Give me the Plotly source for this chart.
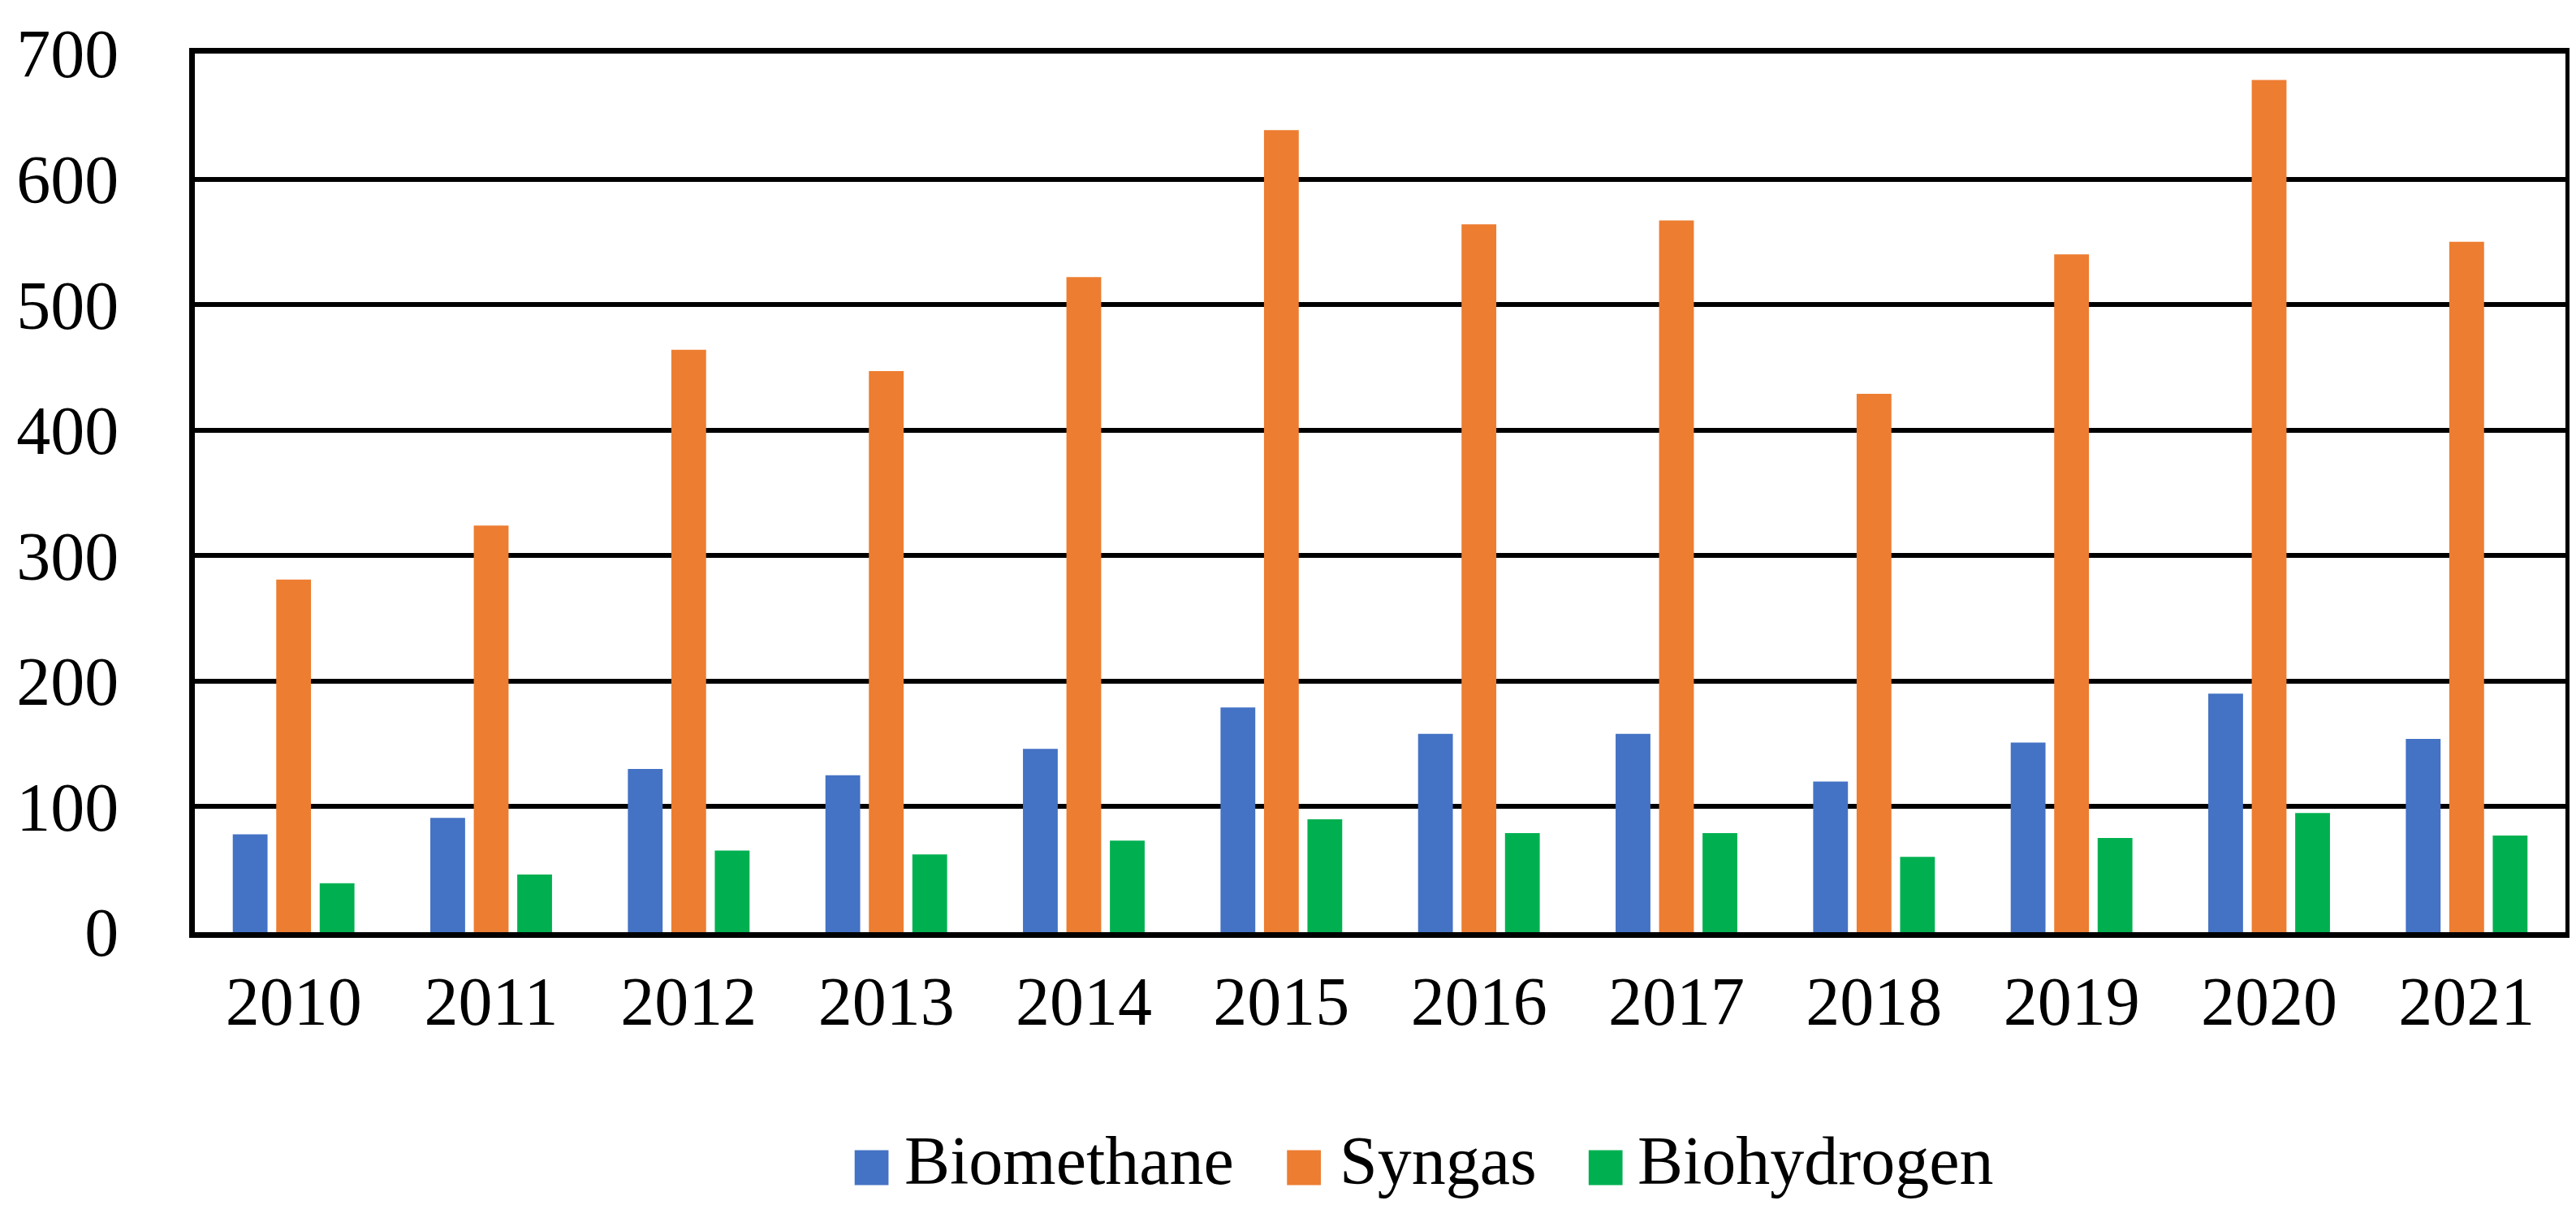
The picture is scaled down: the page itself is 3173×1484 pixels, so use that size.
import plotly.graph_objects as go

years = ["2010", "2011", "2012", "2013", "2014", "2015", "2016", "2017", "2018", "2019", "2020", "2021"]
biomethane = [78, 91, 130, 125, 146, 179, 158, 158, 120, 151, 190, 154]
syngas = [281, 324, 464, 447, 522, 639, 564, 567, 429, 540, 679, 550]
biohydrogen = [39, 46, 65, 62, 73, 90, 79, 79, 60, 75, 95, 77]

series_names = ["Biomethane", "Syngas", "Biohydrogen"]
series_values = [biomethane, syngas, biohydrogen]
series_colors = ["#4472C4", "#ED7D31", "#00B050"]
y_ticks = [0, 100, 200, 300, 400, 500, 600, 700]

W, H = 3173, 1484
L, R, T, B = 213, 21, 56, 344
PW, PH = W - L - R, H - T - B
FONT = "Liberation Serif, Times New Roman, serif"
FS = 84

fig = go.Figure()
for name, vals, col in zip(series_names, series_values, series_colors):
    fig.add_trace(go.Bar(x=years, y=vals, name=name, marker=dict(color=col, line=dict(width=0)),
                         showlegend=False))

def px_x(p):
    return (p - L) / PW

def px_y(p):
    return (H - B - p) / PH

# custom legend (large swatches like the original)
swatch_left = [1031, 1567, 1941]
text_left = [1091, 1630, 2000]
shapes = []
annotations = []
for name, col, sx, tx in zip(series_names, series_colors, swatch_left, text_left):
    shapes.append(dict(type="rect", xref="paper", yref="paper",
                       x0=px_x(sx), x1=px_x(sx + 42), y0=px_y(1452), y1=px_y(1409),
                       fillcolor=col, line=dict(width=0)))
    annotations.append(dict(text=name, xref="paper", yref="paper", x=px_x(tx), y=px_y(1422),
                            xanchor="left", yanchor="middle", showarrow=False,
                            font=dict(family=FONT, size=FS, color="black")))

fig.update_layout(
    width=W, height=H,
    margin=dict(l=L, r=R, t=T, b=B),
    paper_bgcolor="white", plot_bgcolor="white",
    barmode="group", bargap=0.34, bargroupgap=0.2,
    font=dict(family=FONT, size=FS, color="black"),
    shapes=shapes, annotations=annotations,
    showlegend=False,
)
fig.update_xaxes(showline=True, linecolor="black", linewidth=7, mirror=True,
                 showgrid=False, ticks="", ticklabelstandoff=6,
                 tickfont=dict(family=FONT, size=FS, color="black"))
fig.update_yaxes(range=[0, 700], tickvals=y_ticks, showline=True, linecolor="black", linewidth=7,
                 mirror=True, showgrid=True, gridcolor="black", gridwidth=6, zeroline=False,
                 ticks="", ticklabelstandoff=70,
                 tickfont=dict(family=FONT, size=FS, color="black"))

fig.write_html("out.html")
